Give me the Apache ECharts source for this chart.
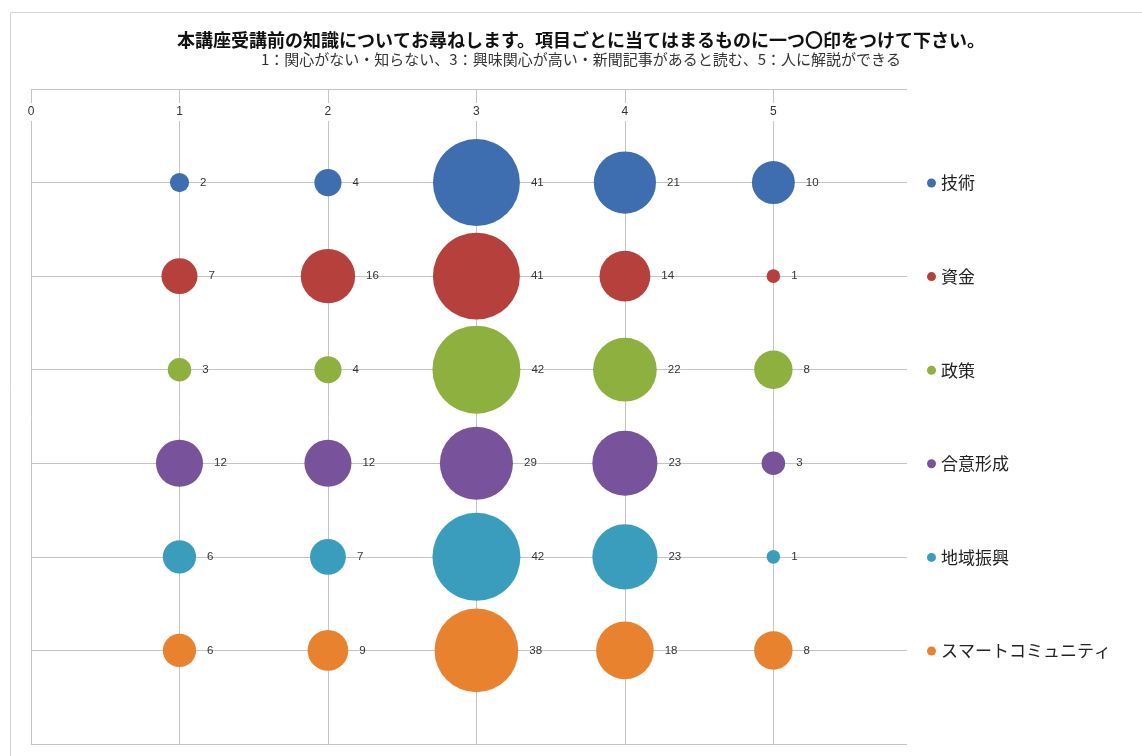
<!DOCTYPE html>
<html>
<head>
<meta charset="utf-8">
<script src="https://cdn.jsdelivr.net/npm/echarts@6/dist/echarts.min.js"></script>
<style>
  html, body { margin: 0; padding: 0; background: #fff; }
  #chart { width: 1142px; height: 756px; }
</style>
</head>
<body>
<div id="chart"></div>
<script>
// Knowledge level before the course (1 = no interest … 5 = can explain it to others)
const levels = [1, 2, 3, 4, 5];
const xTickLabels = ['0', '1', '2', '3', '4', '5'];
const topics = ['技術', '資金', '政策', '合意形成', '地域振興', 'スマートコミュニティ'];

// Number of respondents per level, one array per topic
const gijutsu = [2, 4, 41, 21, 10];
const shikin = [7, 16, 41, 14, 1];
const seisaku = [3, 4, 42, 22, 8];
const goiKeisei = [12, 12, 29, 23, 3];
const chiikiShinko = [6, 7, 42, 23, 1];
const smartCommunity = [6, 9, 38, 18, 8];

const counts = [gijutsu, shikin, seisaku, goiKeisei, chiikiShinko, smartCommunity];
const colors = ['#3e6eb0', '#b5403c', '#8db03f', '#78539c', '#3b9dbe', '#e8822e'];

const title = '本講座受講前の知識についてお尋ねします。項目ごとに当てはまるものに一つ〇印をつけて下さい。';
const subtitle = '1：関心がない・知らない、3：興味関心が高い・新聞記事があると読む、5：人に解説ができる';

// bubble area proportional to the count
const bubbleScale = 13.58;

const chart = echarts.init(document.getElementById('chart'));

const series = topics.map((name, i) => ({
  name: name,
  type: 'scatter',
  data: levels.map((lv, j) => [lv, i + 1, counts[i][j]]),
  symbolSize: d => bubbleScale * Math.sqrt(d[2]),
  itemStyle: { color: colors[i], opacity: 1 },
  label: {
    show: true,
    position: 'right',
    distance: 11,
    formatter: p => String(p.value[2]),
    color: '#333',
    fontSize: 11.5,
    fontFamily: 'Liberation Sans, Arial, sans-serif'
  },
  emphasis: { disabled: true }
}));

chart.setOption({
  animation: false,
  backgroundColor: '#fff',
  title: {
    text: title,
    subtext: subtitle,
    left: 576,
    textAlign: 'center',
    top: 26,
    itemGap: 3,
    textStyle: {
      fontFamily: 'Noto Sans CJK JP',
      fontSize: 18,
      fontWeight: 'bold',
      color: '#111'
    },
    subtextStyle: {
      fontFamily: 'Noto Sans CJK JP',
      fontSize: 15,
      color: '#333'
    }
  },
  legend: {
    orient: 'vertical',
    left: 922,
    top: 169,
    itemWidth: 9,
    itemHeight: 9,
    itemGap: 75.6,
    icon: 'circle',
    data: topics,
    textStyle: {
      fontFamily: 'Noto Sans CJK JP',
      fontSize: 17,
      lineHeight: 18,
      color: '#222'
    }
  },
  grid: {
    left: 31,
    top: 89,
    width: 876,
    height: 655,
    containLabel: false
  },
  xAxis: {
    type: 'value',
    position: 'top',
    min: 0,
    max: 5.9,
    interval: 1,
    axisLine: { show: false },
    axisTick: { show: false },
    axisLabel: {
      inside: true,
      margin: 14,
      showMaxLabel: false,
      formatter: v => (Number.isInteger(v) ? xTickLabels[v] : ''),
      color: '#333',
      fontSize: 12,
      fontFamily: 'Liberation Sans, Arial, sans-serif',
      backgroundColor: '#fff',
      padding: [3, 1]
    },
    splitLine: {
      show: true,
      showMaxLine: false,
      lineStyle: { color: '#c4c4c4', width: 1 }
    }
  },
  yAxis: {
    type: 'value',
    inverse: true,
    min: 0,
    max: 7,
    interval: 1,
    axisLine: { show: false },
    axisTick: { show: false },
    axisLabel: { show: false },
    splitLine: { show: true, lineStyle: { color: '#c4c4c4', width: 1 } }
  },
  graphic: [{
    type: 'rect',
    silent: true,
    z: -1,
    shape: { x: 10.5, y: 12.5, width: 1200, height: 800 },
    style: { fill: 'none', stroke: '#d4d4d4', lineWidth: 1 }
  }],
  series: series
});
</script>
</body>
</html>
